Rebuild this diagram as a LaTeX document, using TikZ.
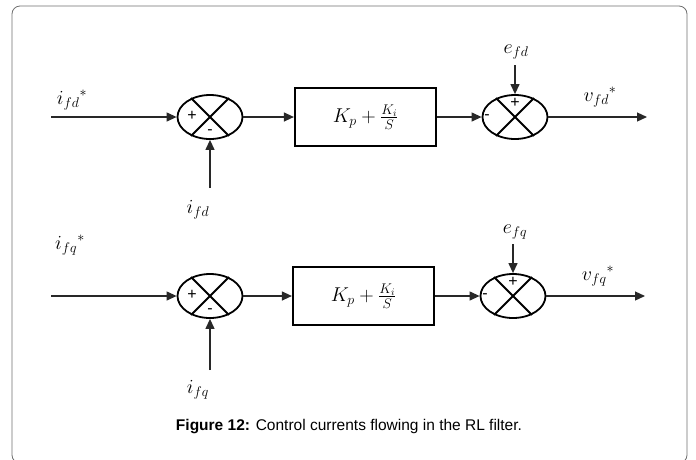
\RequirePackage{fix-cm}
\documentclass[tikz,border=0pt]{standalone}
\usepackage{fontspec}
\newfontfamily\capfont{Liberation Sans}
\definecolor{framegray}{RGB}{110,110,110}
\definecolor{linegray}{RGB}{40,40,40}
\usetikzlibrary{positioning, arrows.meta, shapes.geometric}

\begin{document}
\begin{tikzpicture}[x=1pt, y=-1pt,
  sumnode/.style={draw, ellipse, line width=1.8pt, minimum width=65pt,
    minimum height=44pt, inner sep=0pt},
  ctrlbox/.style={draw, line width=2.2pt, minimum width=141pt,
    minimum height=58pt, font=\fontsize{20}{24}\selectfont},
  arw/.style={-{Triangle[length=10pt,width=9pt]}, line width=1.2pt, linegray},
  lbl/.style={font=\fontsize{20}{24}\selectfont, inner sep=0pt},
  sgn/.style={font=\capfont\fontsize{16}{18}\selectfont, inner sep=0pt},
]
\useasboundingbox (0,0) rectangle (696,459);
\draw[framegray, line width=0.8pt, rounded corners=8pt] (12,6) rectangle (687,463);

% d-axis loop
\node[sumnode] (sd1) at (210,117) {};
\draw[line width=1.8pt] (sd1.45) -- (sd1.225) (sd1.135) -- (sd1.315);
\node[sgn] (sd1p) at (192,116) {+};
\node[sgn] (sd1m) at (210,132) {-};
\node[ctrlbox] (pid) at (365.5,117) {$K_p+\frac{K_i}{S}$};
\node[sumnode] (sd2) at (515,117) {};
\draw[line width=1.8pt] (sd2.45) -- (sd2.225) (sd2.135) -- (sd2.315);
\node[sgn] (sd2m) at (487,117) {-};
\node[sgn] (sd2p) at (515,103) {+};

\coordinate (ind) at (51,117);
\coordinate (fbd) at (210,188);
\coordinate (ed) at (515,65);
\coordinate (outd) at (647,117);

\node[lbl] (lrefd) at (72,100) {${i_{fd}}^{*}$};
\node[lbl] (lfbd) at (198,210) {$i_{fd}$};
\node[lbl] (led) at (516,52) {$e_{fd}$};
\node[lbl] (loutd) at (600,97) {${v_{fd}}^{*}$};

\draw[arw] (ind) -- (sd1);
\draw[arw] (fbd) -- (sd1);
\draw[arw] (sd1) -- (pid);
\draw[arw] (pid) -- (sd2);
\draw[arw] (ed) -- (sd2);
\draw[arw] (sd2) -- (outd);

% q-axis loop
\node[sumnode] (sq1) at (210,296) {};
\draw[line width=1.8pt] (sq1.45) -- (sq1.225) (sq1.135) -- (sq1.315);
\node[sgn] (sq1p) at (192,295) {+};
\node[sgn] (sq1m) at (210,311) {-};
\node[ctrlbox] (piq) at (363.5,296) {$K_p+\frac{K_i}{S}$};
\node[sumnode] (sq2) at (513,296) {};
\draw[line width=1.8pt] (sq2.45) -- (sq2.225) (sq2.135) -- (sq2.315);
\node[sgn] (sq2m) at (485,296) {-};
\node[sgn] (sq2p) at (513,282) {+};

\coordinate (inq) at (51,296);
\coordinate (fbq) at (210,370);
\coordinate (eq) at (513,244);
\coordinate (outq) at (645,296);

\node[lbl] (lrefq) at (70,245) {${i_{fq}}^{*}$};
\node[lbl] (lfbq) at (198,390) {$i_{fq}$};
\node[lbl] (leq) at (515,232) {$e_{fq}$};
\node[lbl] (loutq) at (598,276) {${v_{fq}}^{*}$};

\draw[arw] (inq) -- (sq1);
\draw[arw] (fbq) -- (sq1);
\draw[arw] (sq1) -- (piq);
\draw[arw] (piq) -- (sq2);
\draw[arw] (eq) -- (sq2);
\draw[arw] (sq2) -- (outq);

\node[font=\capfont\fontsize{15.5}{18}\selectfont] (cap) at (349,427)
  {\textbf{Figure 12:} Control currents flowing in the RL filter.};
\end{tikzpicture}
\end{document}
